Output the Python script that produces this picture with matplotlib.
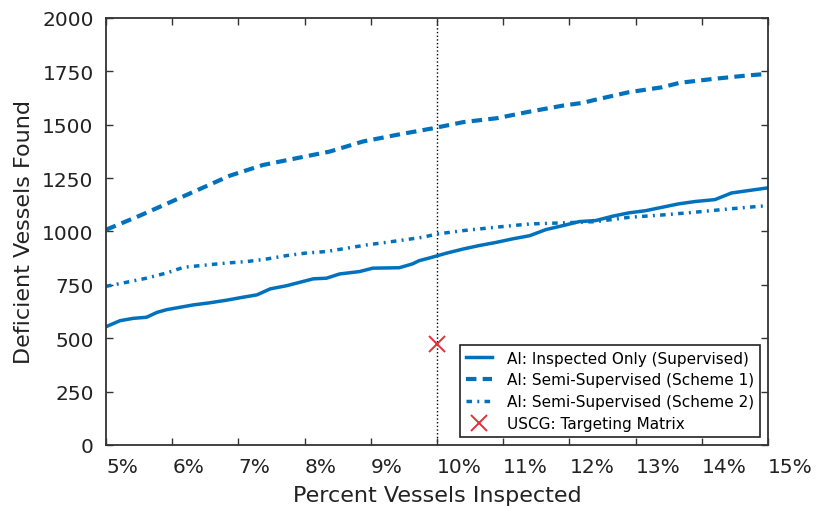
import matplotlib
matplotlib.use('Agg')
import matplotlib.pyplot as plt

# percent vessels inspected vs deficient vessels found
sup_x = [5.0, 5.21, 5.41, 5.61, 5.77, 5.92, 6.12, 6.32, 6.57, 6.82, 7.07, 7.28, 7.48, 7.73,
         7.93, 8.13, 8.33, 8.53, 8.83, 9.03, 9.43, 9.63, 9.73, 9.89, 10.14, 10.4, 10.64,
         10.9, 11.14, 11.4, 11.65, 11.9, 12.15, 12.4, 12.65, 12.9, 13.15, 13.4, 13.65,
         13.9, 14.2, 14.45, 14.7, 15.0]
sup_y = [554, 582, 593, 598, 621, 634, 645, 656, 666, 678, 692, 703, 731, 746,
         762, 778, 781, 801, 812, 828, 830, 848, 863, 876, 898, 918, 934,
         949, 965, 980, 1009, 1027, 1046, 1051, 1071, 1087, 1097, 1113, 1129,
         1140, 1149, 1180, 1191, 1204]

s1_x = [5.0, 5.51, 5.97, 6.42, 6.87, 7.37, 7.88, 8.38, 8.88, 9.39, 9.94, 10.4, 10.9,
        11.4, 11.9, 12.2, 12.4, 12.9, 13.4, 13.67, 14.17, 14.68, 15.0]
s1_y = [1008, 1074, 1137, 1199, 1261, 1311, 1343, 1374, 1421, 1452, 1483, 1512, 1530,
        1561, 1589, 1602, 1617, 1652, 1675, 1696, 1714, 1730, 1738]

s2_x = [5.0, 5.31, 5.61, 5.92, 6.17, 6.52, 6.82, 7.13, 7.43, 7.73, 8.03, 8.33, 8.63,
        8.94, 9.24, 9.54, 9.79, 10.0, 10.4, 10.9, 11.4, 11.9, 12.4, 12.9, 13.4, 13.9,
        14.4, 15.0]
s2_y = [743, 762, 781, 806, 832, 843, 852, 859, 871, 887, 899, 906, 921,
        937, 949, 962, 973, 988, 1004, 1020, 1035, 1040, 1046, 1066, 1077, 1090,
        1105, 1121]

uscg_x = [10.0]
uscg_y = [473]

xticks = list(range(5, 16))
xtick_labels = ['%d%%' % t for t in xticks]
yticks = list(range(0, 2001, 250))

blue = '#0072BD'
plt.rcParams['lines.scale_dashes'] = False
plt.rcParams['font.family'] = 'DejaVu Sans'

fig = plt.figure(figsize=(8.16, 5.10), dpi=100)
ax = fig.add_axes([0.130, 0.1255, 0.811, 0.8375])

ax.axvline(10.0, color='black', linestyle=':', linewidth=1.0, zorder=1)
ax.plot(sup_x, sup_y, color=blue, linewidth=2.5, label='AI: Inspected Only (Supervised)')
ax.plot(s1_x, s1_y, color=blue, linewidth=3.0, linestyle=(0, (7.5, 4.5)),
        label='AI: Semi-Supervised (Scheme 1)')
ax.plot(s2_x, s2_y, color=blue, linewidth=2.5, linestyle=(0, (4.0, 3.8, 1.4, 3.8)),
        label='AI: Semi-Supervised (Scheme 2)')
ax.plot(uscg_x, uscg_y, linestyle='none', marker='x', color='#e0303a', markersize=11,
        markeredgewidth=1.4, label='USCG: Targeting Matrix')

ax.set_xlim(5, 15)
ax.set_ylim(0, 2000)
ax.set_xticks(xticks)
ax.set_xticklabels(xtick_labels, ha='left')
ax.set_yticks(yticks)

for s in ax.spines.values():
    s.set_color('#333333')
    s.set_linewidth(1.3)
ax.tick_params(direction='in', length=5, width=1, colors='#333333', top=True, right=True,
               labelsize=14.5, labelcolor='#222222')
ax.tick_params(axis='x', pad=9)
ax.tick_params(axis='y', pad=9)

ax.set_xlabel('Percent Vessels Inspected', fontsize=16, color='#222222', labelpad=6)
ax.set_ylabel('Deficient Vessels Found', fontsize=16, color='#222222', labelpad=6)

leg = ax.legend(loc='lower right', fontsize=11, fancybox=False, framealpha=1,
                edgecolor='#222222', handlelength=1.7, borderaxespad=0.5, labelspacing=0.45,
                handletextpad=1.0)
leg.get_frame().set_linewidth(1.2)

fig.savefig('out.png', dpi=100)
